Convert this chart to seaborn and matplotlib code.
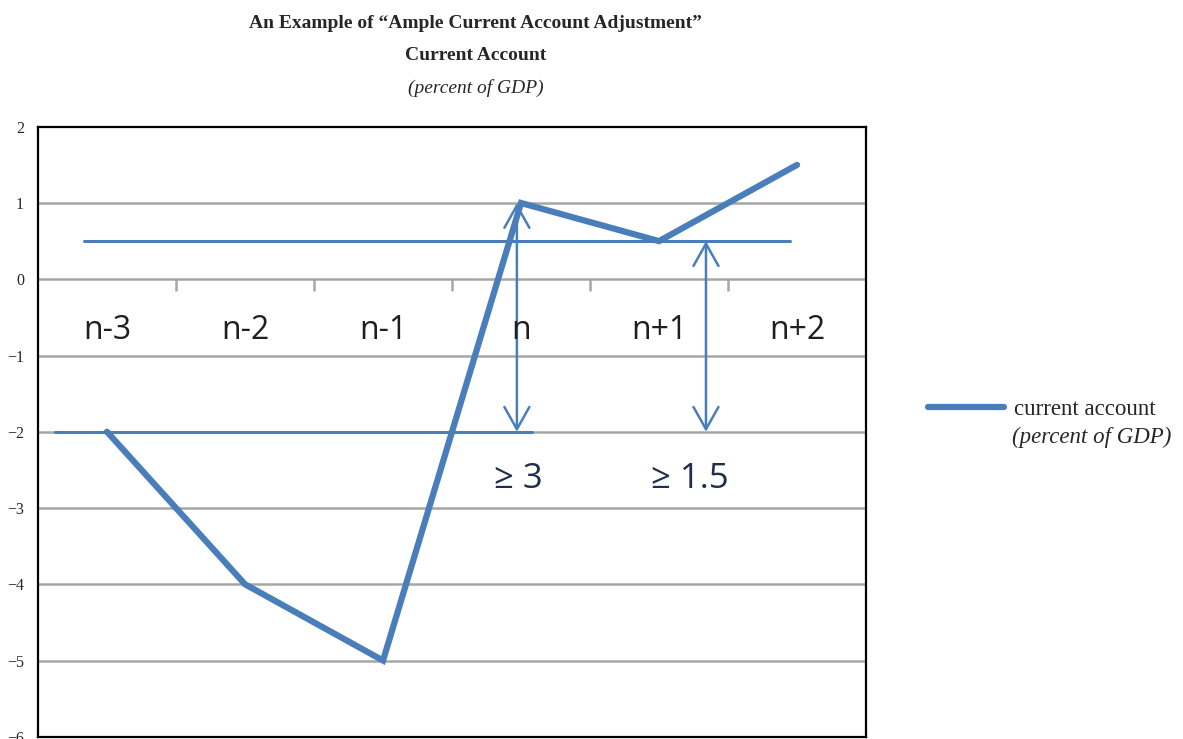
import numpy as np
import matplotlib
matplotlib.use("Agg")
import matplotlib.pyplot as plt
import seaborn as sns

# data
periods = ["n-3", "n-2", "n-1", "n", "n+1", "n+2"]
current_account = [-2, -4, -5, 1, 0.5, 1.5]

# reference levels drawn on the chart: (level, x start, x end)
ref_levels = [0.5, -2]
ref_spans = [(-0.17, 4.95), (-0.38, 3.08)]

# double arrows: (x, top, bottom, label)
arrow_x = [2.97, 4.34]
arrow_top = [1, 0.5]
arrow_bottom = [-2, -2]
arrow_labels = ["\u2265 3", "\u2265 1.5"]
arrow_label_x = [2.98, 4.22]

blue = "#4a7ebb"

sns.set_style("white")
plt.rcParams["font.family"] = ["Liberation Serif", "DejaVu Serif"]

fig = plt.figure(figsize=(11.83, 7.39), dpi=100)
ax = fig.add_axes([0.0321, 0.003, 0.700, 0.8255])

x = np.arange(len(periods))
sns.lineplot(x=x, y=current_account, ax=ax, color=blue, linewidth=4.5,
             solid_capstyle="round", solid_joinstyle="miter",
             label="current account", legend=False, zorder=3)

ax.set_xlim(-0.5, 5.5)
ax.set_ylim(-6, 2)
ax.set_yticks(range(-6, 3))
ax.set_yticklabels([str(v).replace("-", "\u2212") for v in range(-6, 3)], fontsize=11.5)
ax.tick_params(axis="y", length=0, pad=10)
ax.set_xticks([])
for s in ax.spines.values():
    s.set_color("black")
    s.set_linewidth(1.6)

# grid lines
for v in range(-5, 2):
    ax.axhline(v, color="#a6a6a6", linewidth=1.8, zorder=1)
# category boundary ticks on the zero line
ax.vlines(x + 0.5, -0.16, 0, color="#a6a6a6", linewidth=1.8, zorder=1)

# category labels
for xi, lab in zip(x, periods):
    ax.text(xi, -0.67, lab, ha="center", va="center", fontsize=23,
            family="Open Sans", color="#1f1f1f")

# reference levels
for lev, (x0, x1) in zip(ref_levels, ref_spans):
    ax.plot([x0, x1], [lev, lev], color=blue, linewidth=2.2, zorder=2)

# arrows
for xa, t, b in zip(arrow_x, arrow_top, arrow_bottom):
    ax.annotate("", xy=(xa, t), xytext=(xa, b),
                arrowprops=dict(arrowstyle="<->,head_length=1.6,head_width=0.9",
                                color=blue, lw=1.8, shrinkA=0, shrinkB=0),
                zorder=2)
for xl, lab in zip(arrow_label_x, arrow_labels):
    ax.text(xl, -2.62, lab, ha="center", va="center", fontsize=25,
            family=["Open Sans", "DejaVu Sans"], color="#1f2f4f")

# titles
fig.text(0.402, 0.968, "An Example of \u201cAmple Current Account Adjustment\u201d",
         ha="center", va="center", fontsize=14, fontweight="bold")
fig.text(0.402, 0.925, "Current Account", ha="center", va="center",
         fontsize=14, fontweight="bold")
fig.text(0.402, 0.881, "(percent of GDP)", ha="center", va="center",
         fontsize=14, style="italic")

# legend
fig.legend(handles=ax.get_lines()[:1], labels=["current account"],
           loc="center left", bbox_to_anchor=(0.767, 0.446), frameon=False,
           fontsize=16.5, handlelength=3.3, handletextpad=0.45)
fig.text(0.8555, 0.408, "(percent of GDP)", ha="left", va="center",
         fontsize=16.5, style="italic")

fig.savefig("out.png", dpi=100)
